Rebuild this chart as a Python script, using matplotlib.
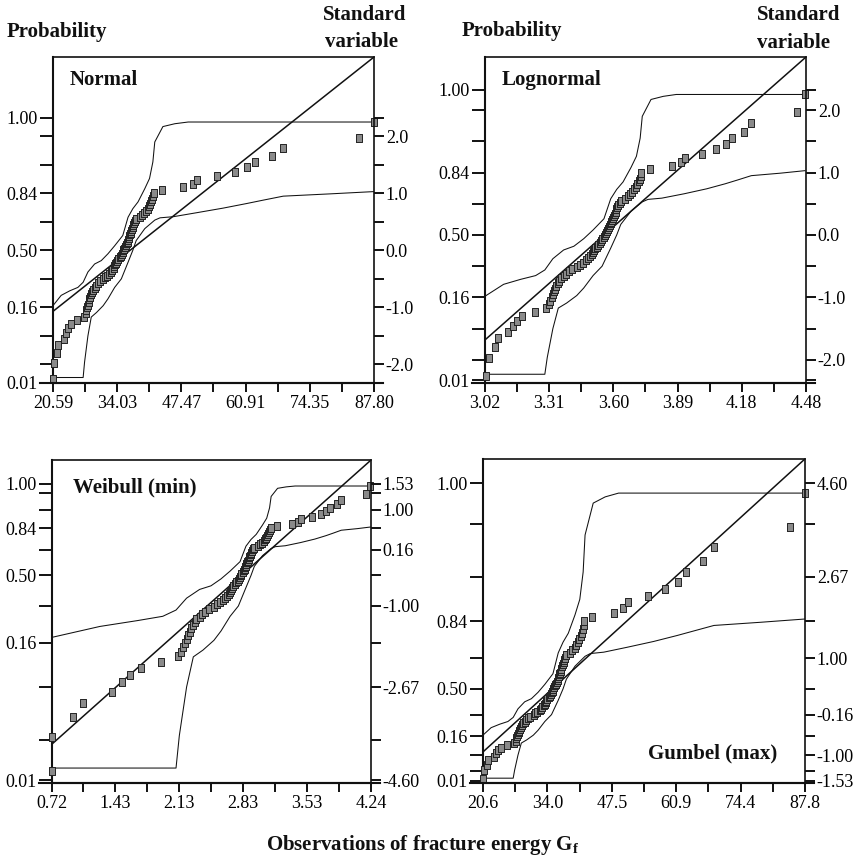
import math
from statistics import NormalDist
import numpy as np
import matplotlib
matplotlib.use("Agg")
import matplotlib.pyplot as plt

plt.rcParams['font.family'] = ['Liberation Serif', 'DejaVu Serif']
plt.rcParams['mathtext.fontset'] = 'custom'
plt.rcParams['mathtext.rm'] = 'Liberation Serif'
plt.rcParams['mathtext.bf'] = 'Liberation Serif:bold'
plt.rcParams['mathtext.it'] = 'Liberation Serif:italic'

ND = NormalDist()

# ---------------- data ----------------
# sorted observations of fracture energy Gf
gf_obs = [20.59, 20.85, 21.4, 21.7, 22.8, 23.25, 23.7, 24.3, 25.7, 27.1,
          27.4, 27.55, 27.75, 27.9, 28.05, 28.2, 28.35, 28.55, 28.75, 28.95,
          29.3, 29.6, 30.0, 30.4, 31.15, 31.5, 31.95, 32.4, 32.7, 33.0,
          33.3, 33.45, 33.65, 33.85, 34.05, 34.3, 34.55, 34.8, 34.95, 35.15,
          35.3, 35.45, 35.65, 35.9, 36.05, 36.2, 36.3, 36.4, 36.55, 36.7,
          36.85, 36.95, 37.1, 37.25, 37.4, 37.6, 37.8, 38.0, 38.75, 39.25,
          39.7, 40.05, 40.4, 40.7, 40.95, 41.2, 41.4, 41.6, 41.75,
          43.4, 47.9, 49.9, 50.8, 55.0, 58.6, 61.2, 62.9, 66.5, 68.8, 84.6, 87.8]

# confidence bands (observation, standard normal variable)
upper_gf = [20.59, 22.3, 24.1, 25.8, 26.9, 27.9, 29.3, 30.7, 32.1, 33.5, 35.2,
            36.3, 37.3, 38.4, 39.8, 40.8, 41.5, 41.9, 43.6, 46.1, 48.9, 87.8]
upper_z = [-0.97, -0.79, -0.71, -0.65, -0.56, -0.38, -0.24, -0.18, -0.06, 0.08, 0.26,
           0.58, 0.73, 0.85, 1.08, 1.26, 1.55, 1.90, 2.17, 2.22, 2.25, 2.25]
lower_gf = [20.59, 26.9, 27.2, 27.9, 28.6, 29.7, 31.1, 32.1, 33.5, 34.9, 36.3, 37.3,
            38.0, 39.8, 41.9, 43.0, 45.8, 50.7, 56.2, 61.1, 64.6, 68.8, 78.6, 87.8]
lower_z = [-2.23, -2.23, -1.96, -1.50, -1.17, -1.09, -0.97, -0.85, -0.65, -0.50, -0.21, 0.0,
           0.17, 0.38, 0.53, 0.57, 0.59, 0.66, 0.74, 0.82, 0.88, 0.95, 0.99, 1.03]

weibull_location = 18.8

# fitted straight lines: reduced = (x - a) / b
fit_normal = (36.72, 15.07)
fit_lognormal = (3.5615, 0.3223)
fit_weibull = (3.031, 0.5988)
fit_gumbel = (30.96, 11.14)

# probability ticks
tick_p = [0.01, 0.02275, 0.06681, 0.15866, 0.30854, 0.5, 0.69146, 0.84134, 0.93319, 0.97725, 0.99]
left_label_p = [0.99, 0.84134, 0.5, 0.15866, 0.01]
left_labels = ['1.00', '0.84', '0.50', '0.16', '0.01']

right_p_norm = [0.97725, 0.84134, 0.5, 0.15866, 0.02275]
right_labels_norm = ['2.0', '1.0', '0.0', '-1.0', '-2.0']
right_p_ev = [0.99, 0.93319, 0.69146, 0.30854, 0.06681, 0.01]
right_labels_weibull = ['1.53', '1.00', '0.16', '-1.00', '-2.67', '-4.60']
right_labels_gumbel = ['4.60', '2.67', '1.00', '-0.16', '-1.00', '-1.53']

xlabels_normal = ['20.59', '34.03', '47.47', '60.91', '74.35', '87.80']
xlabels_lognormal = ['3.02', '3.31', '3.60', '3.89', '4.18', '4.48']
xlabels_weibull = ['0.72', '1.43', '2.13', '2.83', '3.53', '4.24']
xlabels_gumbel = ['20.6', '34.0', '47.5', '60.9', '74.4', '87.8']

titles = ['Normal', 'Lognormal', 'Weibull (min)', 'Gumbel (max)']


# ---------------- transforms ----------------
def reduced(p, kind):
    if kind == 'normal':
        return ND.inv_cdf(p)
    if kind == 'weibull':
        return math.log(-math.log(1.0 - p))
    return -math.log(-math.log(p))


def xobs(g, kind):
    if kind == 'lin':
        return g
    if kind == 'log':
        return math.log(g)
    return math.log(g - weibull_location)


W = H = 859.0
fig = plt.figure(figsize=(8.59, 8.59), dpi=100)
fig.patch.set_facecolor('white')


def rect(l, r, t, b):
    return [l / W, 1 - b / H, (r - l) / W, (b - t) / H]


panels = [
    dict(rect=rect(53, 374, 57, 383), xk='lin', yk='normal', xlim=(20.59, 87.80),
         ylim=(-2.30, 3.39), fit=fit_normal, xl=xlabels_normal,
         rp=right_p_norm, rl=right_labels_norm),
    dict(rect=rect(485, 806, 57, 383), xk='log', yk='normal', xlim=(3.02, 4.48),
         ylim=(-2.37, 2.85), fit=fit_lognormal, xl=xlabels_lognormal,
         rp=right_p_norm, rl=right_labels_norm),
    dict(rect=rect(51.5, 371, 460, 783), xk='weib', yk='weibull', xlim=(0.72, 4.24),
         ylim=(-4.655, 2.02), fit=fit_weibull, xl=xlabels_weibull,
         rp=right_p_ev, rl=right_labels_weibull),
    dict(rect=rect(483, 805, 459, 783), xk='lin', yk='gumbel', xlim=(20.6, 87.8),
         ylim=(-1.57, 5.10), fit=fit_gumbel, xl=xlabels_gumbel,
         rp=right_p_ev, rl=right_labels_gumbel),
]

n = len(gf_obs)
plot_pos = [(i + 1) / (n + 1) for i in range(n)]
sq_marker = [(-0.38, -0.5), (0.38, -0.5), (0.38, 0.5), (-0.38, 0.5), (-0.38, -0.5)]
INK = '#111111'

for P in panels:
    ax = fig.add_axes(P['rect'])
    ax.set_xlim(*P['xlim'])
    ax.set_ylim(*P['ylim'])
    xk, yk = P['xk'], P['yk']

    # bands
    ux = [xobs(g, xk) for g in upper_gf]
    uy = [reduced(ND.cdf(z), yk) for z in upper_z]
    lx = [xobs(g, xk) for g in lower_gf]
    ly = [reduced(ND.cdf(z), yk) for z in lower_z]
    ax.plot(ux, uy, color=INK, lw=0.75, zorder=2)
    ax.plot(lx, ly, color=INK, lw=0.75, zorder=2)

    # fitted line
    a, b = P['fit']
    xl = np.array(P['xlim'])
    ax.plot(xl, (xl - a) / b, color=INK, lw=1.1, zorder=3)

    # data points
    px = [max(xobs(g, xk), P['xlim'][0]) for g in gf_obs]
    py = [reduced(p, yk) for p in plot_pos]
    ax.plot(px, py, linestyle='none', marker=sq_marker, markersize=6.0,
            markerfacecolor='#8a8a8a', markeredgecolor='#222222', markeredgewidth=0.7,
            zorder=4, clip_on=False)

    # x ticks
    xt = np.linspace(P['xlim'][0], P['xlim'][1], 6)
    ax.set_xticks(xt)
    ax.set_xticklabels(P['xl'])
    ax.set_xticks((xt[:-1] + xt[1:]) / 2, minor=True)
    ax.tick_params(axis='x', which='both', direction='out', length=6.5, width=1.4,
                   labelsize=13, pad=2, color=INK)

    # left probability ticks
    ty = [reduced(p, yk) for p in tick_p]
    lab_pos = [reduced(p, yk) for p in left_label_p]
    labs = []
    for t in ty:
        lab = ''
        for lp, ll in zip(lab_pos, left_labels):
            if abs(lp - t) < 1e-3:
                lab = ll
        labs.append(lab)
    ax.set_yticks(ty)
    ax.set_yticklabels(labs)
    ax.tick_params(axis='y', direction='out', length=9.4, width=1.4, labelsize=13,
                   pad=1.5, color=INK)

    # right standard-variable ticks
    ax2 = ax.twinx()
    ax2.set_ylim(*P['ylim'])
    rpos = [reduced(p, yk) for p in P['rp']]
    rlabs = []
    for t in ty:
        lab = ''
        for rp_, rl_ in zip(rpos, P['rl']):
            if abs(rp_ - t) < 1e-3:
                lab = rl_
        rlabs.append(lab)
    ax2.set_yticks(ty)
    ax2.set_yticklabels(rlabs)
    ax2.tick_params(axis='y', direction='out', length=7, width=1.4, labelsize=13,
                    pad=1.5, color=INK)

    for sp in ['left', 'top', 'bottom']:
        ax2.spines[sp].set_visible(False)
    ax2.spines['right'].set_linewidth(1.2)
    ax2.spines['right'].set_color(INK)
    ax.spines['right'].set_visible(False)
    ax.spines['left'].set_linewidth(1.5)
    ax.spines['bottom'].set_linewidth(1.5)
    ax.spines['top'].set_linewidth(1.2)
    for sp in ax.spines.values():
        sp.set_color(INK)

    # extended baseline under the plot
    w_px = P['rect'][2] * W
    ax.plot([-13 / w_px, 1 + 9 / w_px], [0, 0], transform=ax.transAxes,
            color=INK, lw=1.5, clip_on=False, zorder=5)

# ---------------- texts ----------------
def ftext(x, y, s, **kw):
    kw.setdefault('fontsize', 15)
    kw.setdefault('fontweight', 'bold')
    kw.setdefault('ha', 'left')
    kw.setdefault('va', 'center')
    fig.text(x / W, 1 - y / H, s, color=INK, **kw)

ftext(7, 32, 'Probability')
ftext(462, 31, 'Probability')
ftext(323, 15, 'Standard')
ftext(325, 42, 'variable')
ftext(757, 15, 'Standard')
ftext(757, 43, 'variable')
ftext(70, 80, titles[0])
ftext(502, 80, titles[1])
ftext(73, 487, titles[2])
ftext(648, 753, titles[3])
ftext(423, 845, r'Observations of fracture energy $\mathbf{G_f}$', ha='center')

fig.savefig('out.png', dpi=100, facecolor='white')
